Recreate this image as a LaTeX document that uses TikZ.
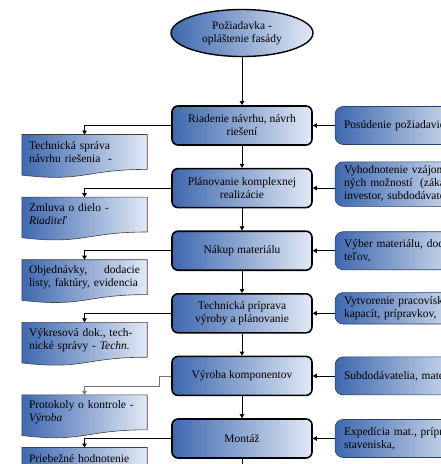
\documentclass[tikz,border=0pt]{standalone}
\usepackage{fontspec}
\setmainfont{Liberation Serif}
\usetikzlibrary{arrows.meta,calc,positioning,shapes.geometric,backgrounds}
\definecolor{tmavomodra}{RGB}{62,104,175}
\definecolor{svetlomodra}{RGB}{225,233,245}
\definecolor{okrajmodra}{RGB}{40,62,105}
\tikzset{
  zaciatok/.style={
    ellipse,
    draw=black,
    line width=1.4pt,
    left color=tmavomodra,
    right color=svetlomodra,
    align=center,
    minimum width=142pt,
    minimum height=47pt,
    inner sep=2pt,
    font=\fontsize{11.5}{13}\selectfont
  },
  proces/.style={
    rounded corners=6pt,
    draw=black,
    line width=1.6pt,
    left color=tmavomodra,
    right color=svetlomodra,
    align=center,
    minimum width=140pt,
    minimum height=39pt,
    inner sep=3pt,
    font=\fontsize{11.5}{13}\selectfont
  },
  vstup/.style={
    rounded corners=8pt,
    draw=okrajmodra,
    line width=0.6pt,
    left color=tmavomodra,
    right color=svetlomodra,
    align=left,
    text width=118pt,
    minimum height=38pt,
    inner xsep=9pt,
    inner ysep=4pt,
    font=\fontsize{11.5}{13}\selectfont
  },
  doklad/.style={
    align=left,
    text width=111pt,
    minimum height=34.5pt,
    inner xsep=7pt,
    inner ysep=3pt,
    font=\fontsize{11.5}{13}\selectfont
  },
  dokladtvar/.style={
    draw=black!75,
    line width=0.6pt,
    left color=tmavomodra,
    right color=svetlomodra
  },
  arrow/.style={
    -{Triangle[length=4pt,width=4.5pt]},
    line width=0.8pt,
    black
  }
}
\begin{document}
\begin{tikzpicture}[node distance=22pt]
\useasboundingbox (0,0) rectangle (441pt,-464pt);
% hlavny tok
\node[zaciatok] (zac) at (242pt,-33pt) {Požiadavka -\\opláštenie fasády};
\node[proces, below=48pt of zac] (v1) {Riadenie návrhu, návrh\\riešení};
\node[proces, below=of v1] (v2) {Plánovanie komplexnej\\realizácie};
\node[proces, below=of v2] (v3) {Nákup materiálu};
\node[proces, below=of v3] (v4) {Technická príprava\\výroby a plánovanie};
\node[proces, below=of v4] (v5) {Výroba komponentov};
\node[proces, below=of v5] (v6) {Montáž};
\coordinate[below=30pt of v6.south] (koniec);
% vstupy vpravo
\node[vstup, right=of v1] (r1) {Posúdenie požiadaviek};
\node[vstup, right=of v2, yshift=4pt] (r2) {Vyhodnotenie vzájom-\\\mbox{ných možností \ (záka-}\\investor, subdodávatelia)};
\node[vstup, right=of v3] (r3) {Výber materiálu, doda-\\teľov,};
\node[vstup, right=of v4, yshift=5pt, minimum height=30pt] (r4) {Vytvorenie pracovísk,\\kapacít, prípravkov, ...};
\node[vstup, right=of v5] (r5) {Subdodávatelia, materiál};
\node[vstup, right=of v6] (r6) {Expedícia mat., príprava\\staveniska,};
% doklady vlavo
\node[doklad, below left=9pt and 24pt of v1.west] (d1) {Technická správa\\návrhu riešenia \ -};
\node[doklad, below left=9pt and 24pt of v2.west] (d2) {Zmluva o dielo -\\\textit{Riaditeľ}};
\node[doklad, below left=9pt and 24pt of v3.west] (d3) {Objednávky,\hfill dodacie\\listy, faktúry, evidencia};
\node[doklad, below left=9pt and 24pt of v4.west] (d4) {Výkresová dok., tech-\\nické správy - \textit{Techn.}};
\node[doklad, below left=19pt and 24pt of v5.west] (d5) {Protokoly o kontrole -\\\textit{Výroba}};
\node[doklad, below left=9pt and 24pt of v6.west] (d6) {Priebežné hodnotenie\\montáže - \textit{Techn. odd.}};
\begin{scope}[on background layer]
\foreach \d in {d1,d2,d3,d4,d5,d6}
  \draw[dokladtvar] (\d.north west) -- (\d.north east) -- (\d.south east)
    .. controls (\d.south) and ($(\d.south)+(0,-13pt)$) .. ($(\d.south west)+(0,-5.7pt)$) -- cycle;
\end{scope}
% spojnice
\draw[arrow] (zac) -- (v1);
\draw[arrow] (v1) -- (v2);
\draw[arrow] (v2) -- (v3);
\draw[arrow] (v3) -- (v4);
\draw[arrow] (v4) -- (v5);
\draw[arrow] (v5) -- (v6);
\draw[line width=0.8pt] (v6.south) -- (koniec);
\draw[arrow] (r1) -- (v1);
\draw[arrow] (r2.west |- v2) -- (v2.east);
\draw[arrow] (r3) -- (v3);
\draw[arrow] (r4.west |- v4) -- (v4.east);
\draw[arrow] (r5) -- (v5);
\draw[arrow] (r6) -- (v6);
\draw[arrow] (v1.west) -| (d1.north);
\draw[arrow] (v2.west) -| (d2.north);
\draw[arrow] (v3.west) -| (d3.north);
\draw[arrow] (v4.west) -| (d4.north);
\draw[arrow, black!55] (v5.west) -- ++(-12pt,0) -- ++(0,-10pt) -| (d5.north);
\draw[arrow] (v6.west) -| (d6.north);
\end{tikzpicture}
\end{document}
